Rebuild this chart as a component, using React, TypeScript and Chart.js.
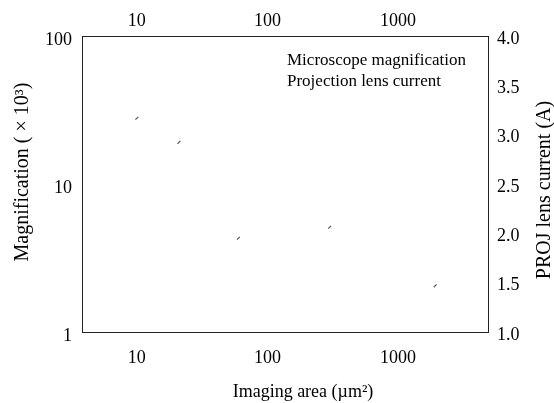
import { useEffect, useRef } from 'react';
import { Chart, registerables } from 'chart.js';

Chart.register(...registerables);

// ---- data ----
const magArea = [10, 21, 300, 1930];           // µm²
const magnification = [27.8, 19.1, 5.1, 2.05]; // ×10³
const curArea = [60];                          // µm²
const lensCurrent = [1.95];                    // A
const xTickValues = [10, 100, 1000];
const yTickValues = [1, 10, 100];
const seriesLabels = ['Microscope magnification', 'Projection lens current'];
const xTitle = 'Imaging area (µm²)';
const yTitle = 'Magnification ( × 10³)';
const y1Title = 'PROJ lens current (A)';

const FONT_FAMILY = '"Liberation Serif", "DejaVu Serif", serif';
const TICK_SIZE = 18;

const textPlugin = {
  id: 'customTexts',
  afterDraw(chart: any) {
    const ctx = chart.ctx as CanvasRenderingContext2D;
    const { left, right, top, bottom } = chart.chartArea;
    ctx.save();
    ctx.fillStyle = '#000';
    ctx.textBaseline = 'middle';
    ctx.textAlign = 'left';
    ctx.font = `17px ${FONT_FAMILY}`;
    chart.data.datasets.forEach((ds: any, i: number) => {
      ctx.fillText(ds.label, left + 205, top + 25 + i * 21);
    });
    ctx.textAlign = 'center';
    ctx.font = `18px ${FONT_FAMILY}`;
    ctx.fillText(xTitle, (left + right) / 2 + 18, bottom + 60);
    ctx.font = `20px ${FONT_FAMILY}`;
    ctx.save();
    ctx.translate(23, (top + bottom) / 2 - 12);
    ctx.rotate(-Math.PI / 2);
    ctx.fillText(yTitle, 0, 0);
    ctx.restore();
    ctx.save();
    ctx.translate(545, (top + bottom) / 2 + 6);
    ctx.rotate(-Math.PI / 2);
    ctx.fillText(y1Title, 0, 0);
    ctx.restore();
    ctx.restore();
  },
};

const borderCfg = { display: true, dash: [1, 2], color: '#222', width: 1 };
const gridCfg = { display: false, drawTicks: false };
const tickFont = { family: FONT_FAMILY, size: TICK_SIZE };

export default function App() {
  const canvasRef = useRef<HTMLCanvasElement | null>(null);

  useEffect(() => {
    if (!canvasRef.current) return;
    const chart = new Chart(canvasRef.current, {
      type: 'scatter',
      data: {
        datasets: [
          {
            label: seriesLabels[0],
            data: magArea.map((a, i) => ({ x: a, y: magnification[i] })),
            xAxisID: 'x',
            yAxisID: 'y',
            showLine: false,
            pointStyle: 'line',
            rotation: -45,
            radius: 2,
            borderWidth: 1.2,
            borderColor: '#555',
            backgroundColor: '#555',
          },
          {
            label: seriesLabels[1],
            data: curArea.map((a, i) => ({ x: a, y: lensCurrent[i] })),
            xAxisID: 'x',
            yAxisID: 'y1',
            showLine: false,
            pointStyle: 'line',
            rotation: -45,
            radius: 2,
            borderWidth: 1.2,
            borderColor: '#555',
            backgroundColor: '#555',
          },
        ],
      },
      options: {
        responsive: false,
        animation: false,
        devicePixelRatio: 1,
        layout: { padding: 0 },
        plugins: {
          legend: { display: false },
          tooltip: { enabled: false },
        },
        scales: {
          x: {
            type: 'logarithmic',
            position: 'bottom',
            min: 3.8,
            max: 4900,
            grid: gridCfg,
            border: borderCfg,
            ticks: {
              font: tickFont,
              color: '#000',
              padding: 15,
              autoSkip: false,
              maxRotation: 0,
              callback: (v: any) => String(v),
            },
            afterBuildTicks: (s: any) => {
              s.ticks = xTickValues.map((v) => ({ value: v }));
            },
            afterFit: (s: any) => {
              s.height = 71;
            },
          },
          x2: {
            type: 'logarithmic',
            position: 'top',
            min: 3.8,
            max: 4900,
            grid: gridCfg,
            border: borderCfg,
            ticks: {
              font: tickFont,
              color: '#000',
              padding: 4,
              autoSkip: false,
              maxRotation: 0,
              callback: (v: any) => String(v),
            },
            afterBuildTicks: (s: any) => {
              s.ticks = xTickValues.map((v) => ({ value: v }));
            },
            afterFit: (s: any) => {
              s.height = 36;
            },
          },
          y: {
            type: 'logarithmic',
            position: 'left',
            min: 1,
            max: 100,
            grid: gridCfg,
            border: borderCfg,
            ticks: {
              font: tickFont,
              color: '#000',
              padding: 10,
              labelOffset: 4,
              autoSkip: false,
              callback: (v: any) => String(v),
            },
            afterBuildTicks: (s: any) => {
              s.ticks = yTickValues.map((v) => ({ value: v }));
            },
            afterFit: (s: any) => {
              s.width = 82;
            },
          },
          y1: {
            type: 'linear',
            position: 'right',
            min: 1,
            max: 4,
            grid: gridCfg,
            border: borderCfg,
            ticks: {
              font: tickFont,
              color: '#000',
              padding: 9,
              labelOffset: 3,
              stepSize: 0.5,
              autoSkip: false,
              callback: (v: any) => Number(v).toFixed(1),
            },
            afterFit: (s: any) => {
              s.width = 66;
            },
          },
        },
      } as any,
      plugins: [textPlugin],
    });
    return () => chart.destroy();
  }, []);

  return (
    <div style={{ position: 'fixed', left: 0, top: 0, width: 554, height: 403, background: '#fff' }}>
      <canvas ref={canvasRef} width={554} height={403} style={{ display: 'block' }} />
    </div>
  );
}
